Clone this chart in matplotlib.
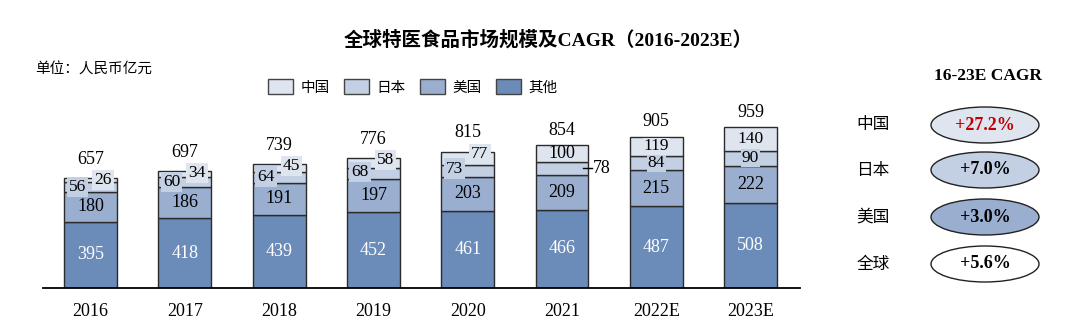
import matplotlib
matplotlib.use("Agg")
import matplotlib.pyplot as plt
from matplotlib.patches import Patch, Ellipse
import numpy as np

plt.rcParams['font.family'] = ['Liberation Serif', 'Noto Sans CJK SC', 'DejaVu Sans']

years = ["2016", "2017", "2018", "2019", "2020", "2021", "2022E", "2023E"]
other = [395, 418, 439, 452, 461, 466, 487, 508]
usa = [180, 186, 191, 197, 203, 209, 215, 222]
japan = [56, 60, 64, 68, 73, 78, 84, 90]
china = [26, 34, 45, 58, 77, 100, 119, 140]
totals = [657, 697, 739, 776, 815, 854, 905, 959]

series_names = ["中国", "日本", "美国", "其他"]
colors = {"中国": "#dfe5ef", "日本": "#c3cfe3", "美国": "#9aafd0", "其他": "#6b8bb8"}
edge = "#2b2b2b"

cagr_labels = ["中国", "日本", "美国", "全球"]
cagr_values = ["+27.2%", "+7.0%", "+3.0%", "+5.6%"]
cagr_fill = ["#dfe5ef", "#c3cfe3", "#9aafd0", "#ffffff"]
cagr_color = ["#c00000", "black", "black", "black"]

W, H = 1080, 324
fig = plt.figure(figsize=(W / 100, H / 100), dpi=100)

ymax = 1000
ax = fig.add_axes([43 / W, 36 / H, 757 / W, 167.4 / H])
x = np.arange(len(years))
bw = 0.562

o = np.array(other)
u = np.array(usa)
j = np.array(japan)
c = np.array(china)
ax.bar(x, o, bw, color=colors["其他"], edgecolor=edge, linewidth=1.0)
ax.bar(x, u, bw, bottom=o, color=colors["美国"], edgecolor=edge, linewidth=1.0)
ax.bar(x, j, bw, bottom=o + u, color=colors["日本"], edgecolor=edge, linewidth=1.0)
ax.bar(x, c, bw, bottom=o + u + j, color=colors["中国"], edgecolor=edge, linewidth=1.0)

ax.set_xlim(-0.504, 7.524)
ax.set_ylim(0, ymax)
for s in ["top", "right", "left"]:
    ax.spines[s].set_visible(False)
ax.spines["bottom"].set_linewidth(1.3)
ax.spines["bottom"].set_color("black")
ax.set_yticks([])
ax.set_xticks(x)
ax.set_xticklabels(years, fontsize=13)
ax.tick_params(axis="x", length=0, pad=11)

fs = 13
for i in range(len(years)):
    ax.text(x[i], o[i] / 2, str(other[i]), ha="center", va="center",
            color="white", fontsize=fs)
    ax.text(x[i], o[i] + u[i] / 2, str(usa[i]), ha="center", va="center",
            color="black", fontsize=fs)
    top = o[i] + u[i] + j[i] + c[i]
    gap = 62 if i <= 4 else 40
    ax.text(x[i], top + gap, str(totals[i]), ha="center", va="bottom",
            color="black", fontsize=fs)
    if i <= 4:
        # crowded top segments: labels staggered left/right
        yj = o[i] + u[i] + (j[i] + c[i]) * 0.33
        yc = top - 12
        ax.text(x[i] - 0.14, yj, str(japan[i]), ha="center", va="center",
                fontsize=12.5,
                bbox=dict(boxstyle="square,pad=0.12", fc=colors["日本"], ec="none"))
        ax.text(x[i] + 0.13, yc, str(china[i]), ha="center", va="center",
                fontsize=12.5,
                bbox=dict(boxstyle="square,pad=0.12", fc=colors["中国"], ec="none"))
    elif i == 5:
        ax.text(x[i], o[i] + u[i] + j[i] + c[i] / 2, str(china[i]),
                ha="center", va="center", fontsize=fs)
        yj = o[i] + u[i] + j[i] / 2
        ax.plot([x[i] + bw / 2 - 0.06, x[i] + bw / 2 + 0.04], [yj, yj],
                color="black", lw=1.0)
        ax.text(x[i] + bw / 2 + 0.045, yj, str(japan[i]), ha="left",
                va="center", fontsize=fs)
    else:
        ax.text(x[i], o[i] + u[i] + j[i] / 2, str(japan[i]), ha="center",
                va="center", fontsize=12.5,
                bbox=dict(boxstyle="square,pad=0.05", fc=colors["日本"], ec="none"))
        ax.text(x[i], o[i] + u[i] + j[i] + c[i] / 2, str(china[i]),
                ha="center", va="center", fontsize=12.5,
                bbox=dict(boxstyle="square,pad=0.05", fc=colors["中国"], ec="none"))

# Title and unit note
fig.text(548 / W, 1 - 40 / H, "全球特医食品市场规模及CAGR（2016-2023E）",
         ha="center", va="center", fontsize=14, fontweight="bold")
fig.text(35 / W, 1 - 70 / H, "单位：人民币亿元", ha="left", va="center",
         fontsize=10.5, family=["Noto Sans CJK SC"])

handles = [Patch(facecolor=colors[n], edgecolor="#444444", linewidth=1.0)
           for n in series_names]
fig.legend(handles, series_names, ncol=4, loc="center",
           bbox_to_anchor=(413 / W, 1 - 87 / H), frameon=False,
           handlelength=1.7, handleheight=1.2,
           handletextpad=0.5, columnspacing=1.0,
           prop={"family": ["Noto Sans CJK SC"], "size": 10.5})

# CAGR panel
pa = fig.add_axes([0, 0, 1, 1])
pa.set_xlim(0, W)
pa.set_ylim(H, 0)
pa.axis("off")
pa.patch.set_alpha(0)
pa.text(988, 76, "16-23E CAGR", ha="center", va="center", fontsize=12.5,
        fontweight="bold")
rows_y = [125, 170, 217, 264]
for k in range(len(cagr_labels)):
    pa.text(873, rows_y[k], cagr_labels[k], ha="center", va="center",
            fontsize=12, family=["Noto Sans CJK SC"])
    pa.add_patch(Ellipse((985, rows_y[k]), 108, 36, facecolor=cagr_fill[k],
                         edgecolor="#222222", linewidth=1.0))
    pa.text(985, rows_y[k], cagr_values[k], ha="center", va="center",
            fontsize=13, fontweight="bold", color=cagr_color[k])

fig.savefig("out.png", dpi=100)
